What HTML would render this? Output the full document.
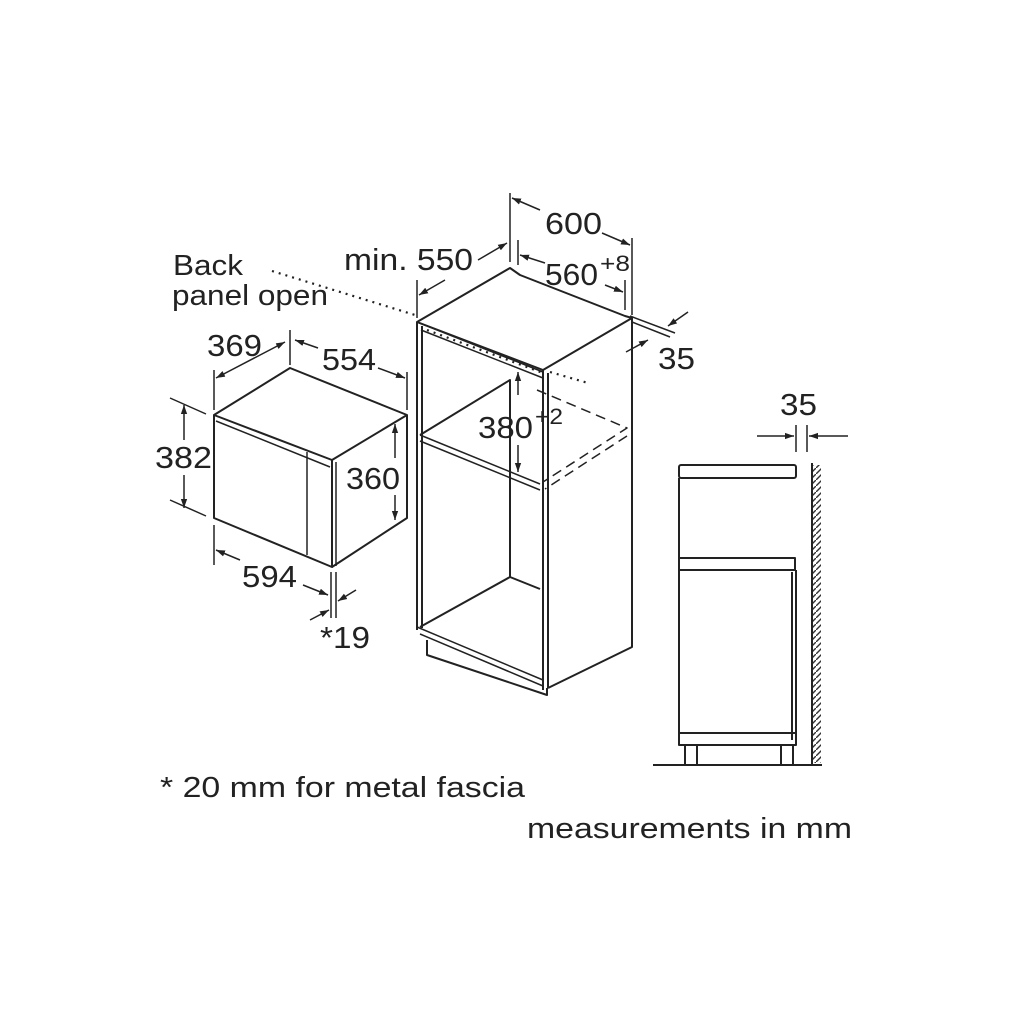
<!DOCTYPE html>
<html><head><meta charset="utf-8"><style>
html,body{margin:0;padding:0;background:#fff}
svg{display:block}
text{font-family:"Liberation Sans",sans-serif;fill:#222}
</style></head><body>
<svg width="1026" height="1026" viewBox="0 0 1026 1026" xmlns="http://www.w3.org/2000/svg">
<defs>
<marker id="a" viewBox="0 0 10 10" refX="10" refY="5" markerWidth="9" markerHeight="9" orient="auto-start-reverse" markerUnits="userSpaceOnUse"><path d="M0,1.5 L10,5 L0,8.5 Z" fill="#222"/></marker>
<pattern id="h" width="6" height="6" patternUnits="userSpaceOnUse"><path d="M0,6 L6,0" stroke="#333" stroke-width="1.4"/></pattern>
</defs>
<g stroke="#222" stroke-width="2" fill="none" stroke-linejoin="round">
<!-- microwave -->
<path d="M214,415 L290,368 L407,415 L332,460 Z" fill="#fff"/>
<path d="M214,415 L214,518 L332,567 L332,460"/>
<path d="M407,415 L407,518 L332,567"/>
<path d="M216,421 L330,467" stroke-width="1.5"/>
<path d="M336,462 L336,566" stroke-width="1.5"/>
<path d="M307,452 L307,555" stroke-width="1.5"/>
<g stroke-width="1.5">
<path d="M214,370 L214,410 M290,330 L290,365 M407,372 L407,410"/>
<path d="M216,378 L285,342" marker-start="url(#a)" marker-end="url(#a)"/>
<path d="M318,348 L295,340" marker-end="url(#a)"/><path d="M378,368 L405,378" marker-end="url(#a)"/>
<path d="M170,398 L206,414 M170,500 L206,516"/>
<path d="M184,440 L184,405" marker-end="url(#a)"/><path d="M184,475 L184,508" marker-end="url(#a)"/>
<path d="M395,458 L395,424" marker-end="url(#a)"/><path d="M395,495 L395,520" marker-end="url(#a)"/>
<path d="M214,525 L214,565"/>
<path d="M240,560 L216,550" marker-end="url(#a)"/><path d="M303,585 L328,595" marker-end="url(#a)"/>
<path d="M331,572 L331,618 M336,572 L336,618"/>
<path d="M356,590 L338,601" marker-end="url(#a)"/><path d="M310,620 L329,610" marker-end="url(#a)"/>
</g>
<!-- cabinet -->
<path d="M417,322 L510,268 L520,275 L625,316 L632,318 L543,370 Z" fill="#fff"/>
<path d="M417,322 L417,630 M422,326 L422,628"/>
<path d="M543,370 L543,690 M548,373 L548,688"/>
<path d="M632,318 L632,647 L548,688"/>
<path d="M417,322 L543,372 M421,330 L543,378" stroke-width="1.5"/>
<path d="M420,435 L510,380 L510,577 L420,627"/>
<path d="M420,435 L540,484 M420,441 L540,490" stroke-width="1.5"/>
<path d="M510,577 L540,589"/>
<path d="M417,627 L543,680 M420,634 L543,686" stroke-width="1.5"/>
<path d="M427,640 L427,655 L547,695 L547,688"/>
<g stroke-dasharray="10,6" stroke-width="1.5">
<path d="M537,390 L627,428 L543,482"/>
<path d="M627,436 L545,489"/>
</g>
<g stroke-dasharray="2,5" stroke-width="2.2">
<path d="M272,271 L415,315"/>
<path d="M427,330 L543,373"/>
<path d="M550,372 L588,383"/>
</g>
<g stroke-width="1.5">
<path d="M510,193 L510,262 M632,238 L632,315 M518,240 L518,265 M625,280 L625,310 M417,280 L417,318"/>
<path d="M540,210 L512,198" marker-end="url(#a)"/><path d="M602,233 L630,245" marker-end="url(#a)"/>
<path d="M545,263 L520,255" marker-end="url(#a)"/><path d="M605,285 L623,292" marker-end="url(#a)"/>
<path d="M445,280 L419,295" marker-end="url(#a)"/><path d="M478,260 L507,243" marker-end="url(#a)"/>
<path d="M630,316 L675,333 M632,322 L670,337"/>
<path d="M688,312 L668,326" marker-end="url(#a)"/><path d="M626,352 L648,340" marker-end="url(#a)"/>
<path d="M518,395 L518,372" marker-end="url(#a)"/><path d="M518,445 L518,472" marker-end="url(#a)"/>
</g>
<!-- side view -->
<rect x="679" y="465" width="117" height="13" rx="2"/>
<path d="M679,478 L679,745 L796,745 L796,570"/>
<path d="M679,558 L795,558 L795,570 L679,570 M792,572 L792,740"/>
<path d="M679,733 L795,733"/>
<path d="M685,745 L685,765 M697,745 L697,765 M781,745 L781,765 M793,745 L793,765"/>
<path d="M653,765 L822,765"/>
<path d="M812,463 L812,765"/>
<g stroke-width="1.5">
<path d="M796,425 L796,452 M807,425 L807,452"/>
<path d="M757,436 L794,436" marker-end="url(#a)"/><path d="M848,436 L809,436" marker-end="url(#a)"/>
</g>
</g>
<rect x="813" y="465" width="8" height="298" fill="url(#h)"/>
<g font-size="31" lengthAdjust="spacingAndGlyphs">
<text x="207" y="356" textLength="55" lengthAdjust="spacingAndGlyphs">369</text>
<text x="322" y="370" textLength="54" lengthAdjust="spacingAndGlyphs">554</text>
<text x="155" y="468" textLength="57" lengthAdjust="spacingAndGlyphs">382</text>
<text x="346" y="489" textLength="54" lengthAdjust="spacingAndGlyphs">360</text>
<text x="242" y="587" textLength="55" lengthAdjust="spacingAndGlyphs">594</text>
<text x="320" y="648" textLength="50" lengthAdjust="spacingAndGlyphs">*19</text>
<text x="545" y="234" textLength="57" lengthAdjust="spacingAndGlyphs">600</text>
<text x="545" y="285" textLength="53" lengthAdjust="spacingAndGlyphs">560</text>
<text x="600" y="271" font-size="22" textLength="30" lengthAdjust="spacingAndGlyphs">+8</text>
<text x="344" y="270" textLength="129" lengthAdjust="spacingAndGlyphs">min. 550</text>
<text x="658" y="369" textLength="37" lengthAdjust="spacingAndGlyphs">35</text>
<text x="478" y="438" textLength="55" lengthAdjust="spacingAndGlyphs">380</text>
<text x="535" y="424" font-size="22" textLength="28" lengthAdjust="spacingAndGlyphs">+2</text>
<text x="780" y="415" textLength="37" lengthAdjust="spacingAndGlyphs">35</text>
</g>
<g font-size="29">
<text x="173" y="275" textLength="70" lengthAdjust="spacingAndGlyphs">Back</text>
<text x="172" y="305" textLength="156" lengthAdjust="spacingAndGlyphs">panel open</text>
<text x="160" y="797" textLength="365" lengthAdjust="spacingAndGlyphs">* 20 mm for metal fascia</text>
<text x="527" y="838" textLength="325" lengthAdjust="spacingAndGlyphs">measurements in mm</text>
</g>
</svg>
</body></html>
